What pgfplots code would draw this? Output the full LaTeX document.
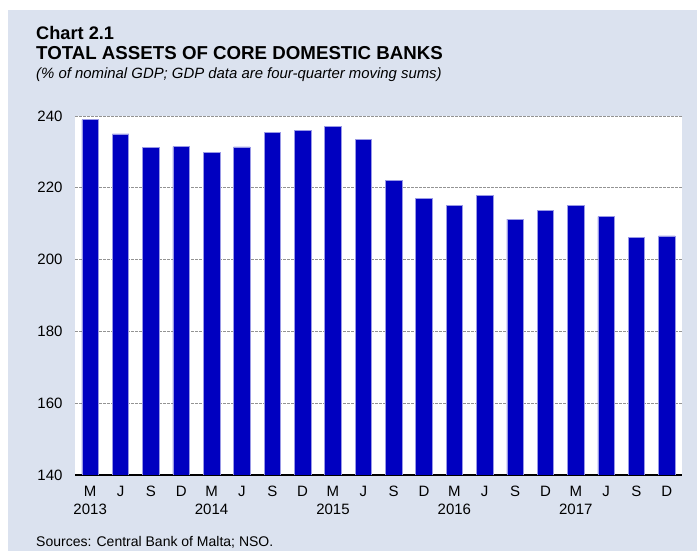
\documentclass[border=0pt]{standalone}
\usepackage{fontspec}
\setmainfont{Liberation Sans}
\usepackage{pgfplots}
\pgfplotsset{compat=1.18}
\definecolor{bg}{RGB}{219,226,239}
\definecolor{barblue}{RGB}{0,0,192}
\begin{document}
\begin{tikzpicture}[x=1bp,y=1bp]
\fill[white] (0,0) rectangle (697,551);
\fill[bg] (8,0) rectangle (697,541);
\node[anchor=base west, inner sep=0, font=\bfseries\fontsize{18.2bp}{20bp}\selectfont] at (36,511) {Chart 2.1};
\node[anchor=base west, inner sep=0, font=\bfseries\fontsize{18.7bp}{20bp}\selectfont] at (36,491) {TOTAL ASSETS OF CORE DOMESTIC BANKS};
\node[anchor=base west, inner sep=0, font=\itshape\fontsize{14.9bp}{18bp}\selectfont] at (36,472) {(\% of nominal GDP; GDP data are four-quarter moving sums)};
\node[anchor=base west, inner sep=0, font=\fontsize{14bp}{17bp}\selectfont] at (36,4) {Sources: Central Bank of Malta; NSO.};
\begin{axis}[
  at={(75bp,76bp)}, anchor=south west,
  width=607bp, height=359bp, scale only axis,
  xmin=0.5, xmax=20.5, ymin=140, ymax=240,
  axis background/.style={fill=white},
  axis x line*=bottom, axis y line*=left,
  x axis line style={black, line width=2bp},
  y axis line style={draw=none},
  major tick length=0pt,
  ytick={140,160,...,240},
  ymajorgrids,
  major grid style={gray!85, line width=0.8bp, dash pattern=on 2.5bp off 1.5bp},
  xtick={1,...,20},
  xticklabels={{M\\2013},J,S,D,{M\\2014},J,S,D,{M\\2015},J,S,D,{M\\2016},J,S,D,{M\\2017},J,S,D},
  xticklabel style={align=center, font=\fontsize{15bp}{18bp}\selectfont, yshift=-8bp},
  yticklabel style={font=\fontsize{15bp}{18bp}\selectfont, xshift=-9bp},
  /pgf/number format/assume math mode=true,
  scaled y ticks=false,
]
\addplot[ybar, bar width=16.5bp, fill=barblue, draw=barblue!40!white, line width=0.6bp] coordinates {
(1,239.0) (2,235.0) (3,231.2) (4,231.5) (5,229.9) (6,231.4) (7,235.5) (8,236.0) (9,237.2) (10,233.4)
(11,222.0) (12,217.1) (13,215.2) (14,217.8) (15,211.3) (16,213.7) (17,215.1) (18,212.0) (19,206.2) (20,206.6)
};
\end{axis}
\end{tikzpicture}
\end{document}
